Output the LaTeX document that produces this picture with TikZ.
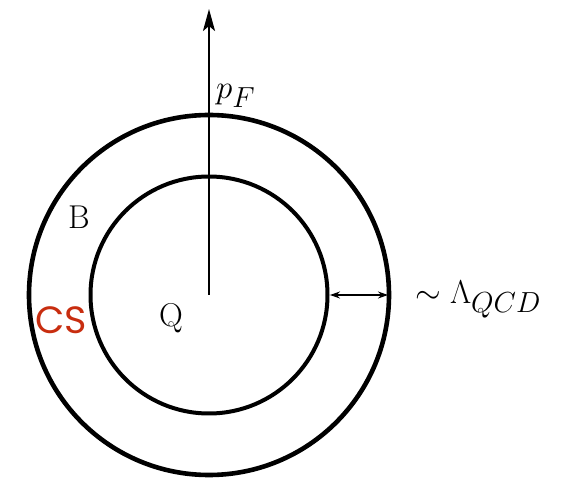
\RequirePackage{fix-cm}
\documentclass[tikz,border=0pt]{standalone}
\usepackage{fontspec}
\newfontfamily\csfont{Poppins}
\usetikzlibrary{arrows.meta}
\definecolor{csred}{RGB}{200,45,15}
\newcommand{\bigsub}[1]{\mbox{\fontsize{29}{32}\selectfont$#1$}}
\begin{document}
\begin{tikzpicture}[x=1pt,y=-1pt,
  ring/.style={line width=4.6pt,draw=black},
  lbl/.style={inner sep=0pt,anchor=base west,font=\fontsize{33}{38}\selectfont}]
\useasboundingbox (0,0) rectangle (574,478);
\coordinate (c) at (209,295);
\draw[ring] (c) circle[radius=180];
\draw[ring,line width=4pt] (c) circle[radius=118.5];
\coordinate (top) at (209,9);
\draw[line width=2.3pt,-{Stealth[length=22pt,width=12pt,inset=5pt]}] (c) -- (top);
\coordinate (ia) at (330,295);
\coordinate (oa) at (388,295);
\draw[line width=1.1pt,{Stealth[length=10pt,width=7pt]}-{Stealth[length=10pt,width=7pt]}] (ia) -- (oa);
\node[lbl] (pf) at (216,99) {$p_{\bigsub{F}}$};
\node[lbl] (b) at (68,229) {B};
\node[lbl] (q) at (159,327) {Q};
\node[lbl] (lam) at (415,304) {$\sim \Lambda_{\bigsub{QCD}}$};
\node[inner sep=0pt,text=csred,font=\csfont\fontsize{38}{42}\selectfont] (cs) at (61,320) {CS};
\end{tikzpicture}
\end{document}
